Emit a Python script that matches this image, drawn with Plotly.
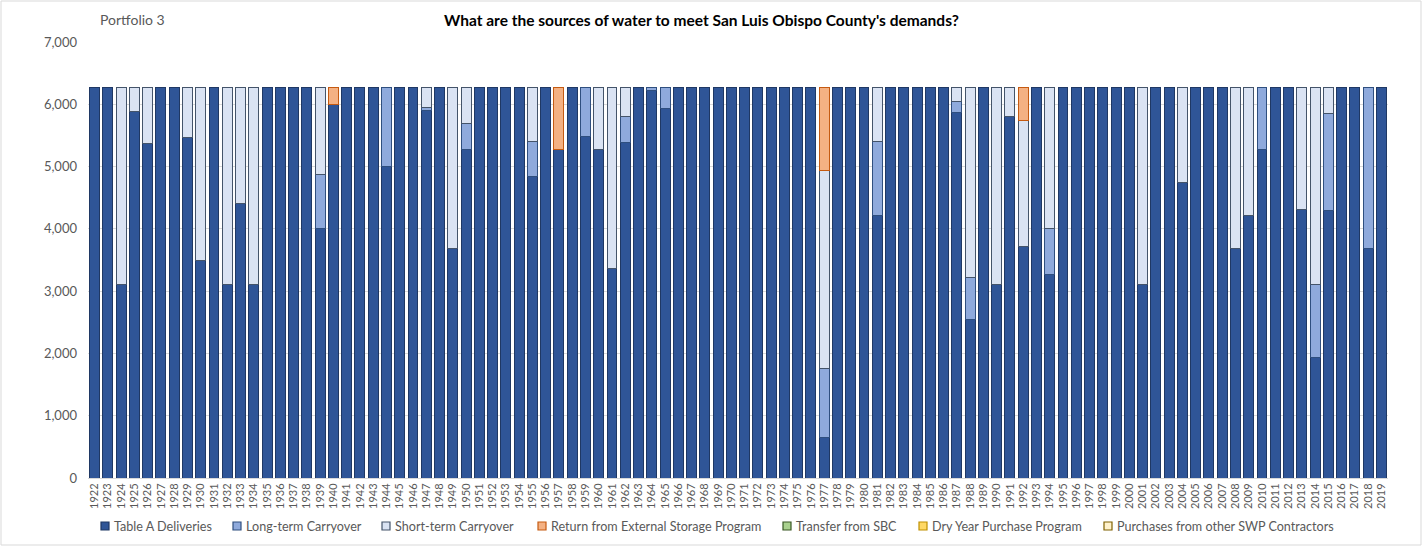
import plotly.graph_objects as go

# Water year categories
YEARS = [str(y) for y in range(1922, 2020)]

# Acre-feet by source, one value per year 1922-2019
TABLE_A = [
    6270, 6270, 3100, 5880, 5370, 6270, 6270, 5470, 3500, 6270,  # 1922-1931
    3100, 4410, 3100, 6270, 6270, 6270, 6270, 4000, 6000, 6270,  # 1932-1941
    6270, 6270, 5000, 6270, 6270, 5900, 6270, 3690, 5270, 6270,  # 1942-1951
    6270, 6270, 6270, 4840, 6270, 5270, 6270, 5480, 5270, 3370,  # 1952-1961
    5380, 6270, 6220, 5940, 6270, 6270, 6270, 6270, 6270, 6270,  # 1962-1971
    6270, 6270, 6270, 6270, 6270, 650, 6270, 6270, 6270, 4210,   # 1972-1981
    6270, 6270, 6270, 6270, 6270, 5870, 2550, 6270, 3100, 5810,  # 1982-1991
    3710, 6270, 3260, 6270, 6270, 6270, 6270, 6270, 6270, 3100,  # 1992-2001
    6270, 6270, 4750, 6270, 6270, 6270, 3690, 4210, 5270, 6270,  # 2002-2011
    6270, 4310, 1930, 4300, 6270, 6270, 3690, 6270,              # 2012-2019
]

LONG_TERM = [
    0, 0, 0, 0, 0, 0, 0, 0, 0, 0,          # 1922-1931
    0, 0, 0, 0, 0, 0, 0, 870, 0, 0,        # 1932-1941
    0, 0, 1270, 0, 0, 50, 0, 0, 420, 0,    # 1942-1951
    0, 0, 0, 570, 0, 0, 0, 790, 0, 0,      # 1952-1961
    420, 0, 50, 330, 0, 0, 0, 0, 0, 0,     # 1962-1971
    0, 0, 0, 0, 0, 1110, 0, 0, 0, 1190,    # 1972-1981
    0, 0, 0, 0, 0, 180, 670, 0, 0, 0,      # 1982-1991
    0, 0, 740, 0, 0, 0, 0, 0, 0, 0,        # 1992-2001
    0, 0, 0, 0, 0, 0, 0, 0, 1000, 0,       # 2002-2011
    0, 0, 1170, 1550, 0, 0, 2580, 0,       # 2012-2019
]

SHORT_TERM = [
    0, 0, 3170, 390, 900, 0, 0, 800, 2770, 0,     # 1922-1931
    3170, 1860, 3170, 0, 0, 0, 0, 1400, 0, 0,     # 1932-1941
    0, 0, 0, 0, 0, 320, 0, 2580, 580, 0,          # 1942-1951
    0, 0, 0, 860, 0, 0, 0, 0, 1000, 2900,         # 1952-1961
    470, 0, 0, 0, 0, 0, 0, 0, 0, 0,               # 1962-1971
    0, 0, 0, 0, 0, 3180, 0, 0, 0, 870,            # 1972-1981
    0, 0, 0, 0, 0, 220, 3050, 0, 3170, 460,       # 1982-1991
    2030, 0, 2270, 0, 0, 0, 0, 0, 0, 3170,        # 1992-2001
    0, 0, 1520, 0, 0, 0, 2580, 2060, 0, 0,        # 2002-2011
    0, 1960, 3170, 420, 0, 0, 0, 0,               # 2012-2019
]

EXTERNAL_STORAGE = [
    0, 0, 0, 0, 0, 0, 0, 0, 0, 0,          # 1922-1931
    0, 0, 0, 0, 0, 0, 0, 0, 270, 0,        # 1932-1941
    0, 0, 0, 0, 0, 0, 0, 0, 0, 0,          # 1942-1951
    0, 0, 0, 0, 0, 1000, 0, 0, 0, 0,       # 1952-1961
    0, 0, 0, 0, 0, 0, 0, 0, 0, 0,          # 1962-1971
    0, 0, 0, 0, 0, 1330, 0, 0, 0, 0,       # 1972-1981
    0, 0, 0, 0, 0, 0, 0, 0, 0, 0,          # 1982-1991
    530, 0, 0, 0, 0, 0, 0, 0, 0, 0,        # 1992-2001
    0, 0, 0, 0, 0, 0, 0, 0, 0, 0,          # 2002-2011
    0, 0, 0, 0, 0, 0, 0, 0,                # 2012-2019
]

# Sources with no deliveries in this portfolio
TRANSFER_SBC = [0] * len(YEARS)
DRY_YEAR = [0] * len(YEARS)
OTHER_SWP = [0] * len(YEARS)

SERIES = [
    ("Table A Deliveries", TABLE_A, "#2F5597", "#1F3864"),
    ("Long-term Carryover", LONG_TERM, "#8FAADC", "#2F4F7F"),
    ("Short-term Carryover", SHORT_TERM, "#DAE3F3", "#44546A"),
    ("Return from External Storage Program", EXTERNAL_STORAGE, "#F4B183", "#C55A11"),
    ("Transfer from SBC", TRANSFER_SBC, "#A9D18E", "#385723"),
    ("Dry Year Purchase Program", DRY_YEAR, "#FFD966", "#BF9000"),
    ("Purchases from other SWP Contractors", OTHER_SWP, "#FFF2CC", "#7F6000"),
]

FONT = "Lato, Open Sans, sans-serif"
GRAY = "#595959"

# Figure geometry (pixels)
W, H = 1424, 546
M_L, M_R, M_T, M_B = 88, 36, 42, 68
PW, PH = W - M_L - M_R, H - M_T - M_B


def px_x(px):
    return (px - M_L) / PW


def px_y(py):
    return (H - M_B - py) / PH


fig = go.Figure()
for name, vals, fill, edge in SERIES:
    fig.add_trace(go.Bar(
        x=YEARS, y=[v if v else None for v in vals], name=name,
        marker=dict(color=fill, line=dict(color=edge, width=1)),
        showlegend=False,
    ))

# Legend row beneath the year labels
LEGEND_X = [105, 237, 386, 542, 787, 923, 1108]
LEGEND_Y = 526
shapes = []
annotations = []
for (name, _, fill, edge), cx in zip(SERIES, LEGEND_X):
    shapes.append(dict(
        type="rect", xref="paper", yref="paper",
        x0=px_x(cx - 4), x1=px_x(cx + 4),
        y0=px_y(LEGEND_Y + 4), y1=px_y(LEGEND_Y - 4),
        fillcolor=fill, line=dict(color=edge, width=1.2),
    ))
    annotations.append(dict(
        text=name, xref="paper", yref="paper",
        x=px_x(cx + 7), y=px_y(LEGEND_Y), xanchor="left", yanchor="middle",
        showarrow=False, font=dict(size=12.6, color=GRAY, family=FONT),
    ))

annotations += [
    dict(text="<b>What are the sources of water to meet San Luis Obispo County's demands?</b>",
         xref="paper", yref="paper", x=px_x(701), y=px_y(20),
         xanchor="center", yanchor="middle", showarrow=False,
         font=dict(size=15.5, color="black", family=FONT)),
    dict(text="Portfolio 3", xref="paper", yref="paper", x=px_x(98), y=px_y(20),
         xanchor="left", yanchor="middle", showarrow=False,
         font=dict(size=14, color=GRAY, family=FONT)),
]

# Chart-area frame
shapes.append(dict(
    type="rect", xref="paper", yref="paper",
    x0=px_x(1), x1=px_x(1421), y0=px_y(545), y1=px_y(1),
    line=dict(color="#D9D9D9", width=1), fillcolor="rgba(0,0,0,0)",
))

fig.update_layout(
    barmode="stack",
    bargap=0.25,
    width=W, height=H,
    margin=dict(l=M_L, r=M_R, t=M_T, b=M_B, autoexpand=False),
    paper_bgcolor="white",
    plot_bgcolor="white",
    font=dict(family=FONT, color=GRAY),
    showlegend=False,
    xaxis=dict(
        type="category", tickangle=-90, tickfont=dict(size=11, color=GRAY),
        showline=True, linecolor="#D9D9D9", linewidth=1, ticks="",
        showgrid=False, automargin=False,
    ),
    yaxis=dict(
        range=[0, 7000], dtick=1000, tickformat=",d",
        tickfont=dict(size=13, color=GRAY), ticklabelstandoff=10,
        showgrid=True, gridcolor="#D9D9D9", gridwidth=1,
        zeroline=False, showline=False, ticks="", automargin=False,
    ),
    annotations=annotations,
    shapes=shapes,
)

fig.write_html("out.html")
